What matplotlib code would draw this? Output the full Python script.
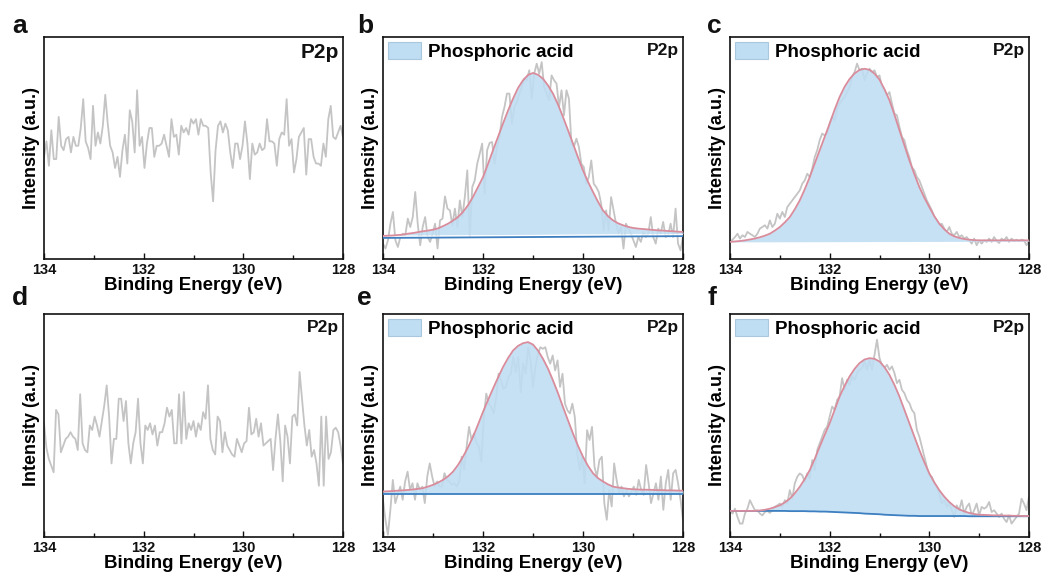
#!/usr/bin/env python3
"""
XPS P2p spectra, six panels (a-f).
Raw counts in grey, phosphoric-acid component filled in blue, envelope in pink.
"""

import numpy as np
import matplotlib
matplotlib.use('Agg')
import matplotlib.pyplot as plt
from matplotlib.patches import Patch
from matplotlib.ticker import MultipleLocator

plt.rcParams['font.family'] = ['Liberation Sans', 'DejaVu Sans']
plt.rcParams['font.weight'] = 'bold'

# ─── Palette ─────────────────────────────────────────────────────────────────

COLORS = {
    'raw': '#c4c4c4',
    'fill': '#bfddf3',
    'fill_edge': '#a9c8de',
    'fit': '#d98c9c',
    'base': '#3d7fc0',
    'ink': '#111111',
}

E_START, E_END = 134, 128

# ─── Data (intensity in arbitrary units, 0-100 of the frame) ─────────────────

raw_a = [46, 53, 42, 58, 45, 45, 64, 51, 49, 54, 55, 48, 55, 51, 51, 59, 72, 53, 50, 45,
         69, 51, 57, 52, 60, 74, 61, 51, 48, 41, 46, 37, 49, 56, 43, 67, 62, 48, 76, 51,
         55, 41, 52, 59, 59, 46, 51, 51, 52, 56, 51, 46, 63, 55, 56, 47, 60, 57, 59, 56,
         63, 61, 63, 56, 63, 60, 60, 59, 39, 26, 49, 60, 62, 57, 61, 58, 48, 41, 52, 52,
         45, 51, 62, 52, 36, 52, 47, 48, 52, 49, 50, 63, 53, 53, 52, 42, 54, 57, 56, 72,
         51, 54, 39, 45, 55, 57, 59, 38, 54, 54, 46, 43, 43, 42, 52, 46, 63, 69, 55, 54,
         57, 60, 55]

raw_b = [6.9, 4.7, 8.4, 15.9, 21.2, 8.4, 5.4, 9.9, 11.4, 10.7, 18.2, 14.4, 18.9, 30.2, 15.9,
         6.2, 14.4, 18.9, 9.9, 7.7, 11.4, 15.9, 4.7, 17.4, 18.2, 28.2, 22.7, 21.9, 15.2, 22.7,
         14.4, 26.4, 18.9, 27.9, 39.9, 9.9, 32.4, 35.4, 42.9, 47.4, 52.0, 29.4, 49.0, 52.3, 52.7,
         42.9, 50.5, 55.0, 64.0, 68.5, 74.5, 74.5, 61.0, 68.5, 70.7, 74.5, 77.5, 81.2, 80.5, 85.0,
         72.2, 83.5, 88.0, 83.5, 88.7, 77.5, 74.5, 71.5, 82.7, 80.5, 79.0, 68.5, 76.0, 64.7, 76.0,
         72.2, 52.0, 50.5, 54.2, 50.5, 42.9, 41.4, 33.9, 36.9, 44.4, 33.9, 32.4, 30.2, 24.9, 12.9,
         21.9, 12.9, 27.9, 21.9, 15.9, 11.4, 14.4, 4.7, 15.9, 13.7, 11.4, 8.4, 5.4, 9.9, 7.7,
         12.2, 9.9, 11.4, 18.9, 9.9, 6.9, 13.7, 11.4, 16.7, 9.9, 10.7, 15.9, 9.9, 22.7, 6.9,
         3.9, 9.9]

raw_c = [7.7, 8.7, 9.9, 11.4, 9.2, 10.7, 9.9, 12.2, 11.4, 10.7, 9.9, 11.4, 13.7, 14.4, 15.2,
         13.7, 17.4, 14.4, 15.9, 20.4, 18.2, 21.2, 18.9, 23.4, 24.9, 26.4, 27.9, 29.4, 30.9, 33.9,
         35.4, 38.4, 36.9, 40.7, 45.9, 49.0, 53.5, 56.5, 55.7, 56.5, 61.0, 64.0, 62.5, 67.7, 70.0,
         71.5, 73.0, 75.2, 77.5, 82.0, 84.2, 88.0, 85.0, 85.7, 80.5, 83.5, 85.7, 84.2, 85.0, 82.0,
         82.7, 77.5, 76.0, 73.7, 75.2, 70.0, 65.5, 64.7, 59.5, 55.0, 53.5, 49.0, 45.9, 41.4, 39.9,
         36.9, 35.4, 32.4, 29.4, 26.4, 24.2, 21.9, 18.9, 17.4, 15.2, 15.9, 13.7, 12.2, 14.4, 11.4,
         10.7, 12.2, 9.9, 10.7, 9.2, 9.9, 8.4, 6.9, 9.2, 6.2, 8.4, 6.9, 8.4, 7.7, 9.2,
         7.7, 9.9, 8.1, 7.2, 9.2, 8.4, 9.9, 7.7, 9.2, 8.1, 8.7, 8.1, 8.7, 8.4, 6.2, 8.1]

raw_d = [51, 40, 35, 32, 29, 57, 55, 38, 41, 44, 45, 47, 45, 44, 39, 64, 42, 39, 38, 50,
         48, 54, 50, 45, 52, 59, 68, 54, 33, 44, 44, 62, 62, 52, 61, 42, 33, 42, 47, 62,
         42, 33, 50, 48, 51, 46, 50, 41, 47, 47, 51, 58, 54, 57, 42, 42, 64, 42, 65, 44,
         51, 48, 52, 45, 51, 48, 56, 53, 68, 44, 39, 37, 54, 52, 38, 47, 41, 39, 37, 36,
         44, 41, 38, 42, 43, 58, 46, 47, 53, 45, 51, 41, 42, 43, 44, 30, 44, 55, 43, 25,
         50, 45, 33, 54, 55, 50, 74, 62, 50, 41, 48, 36, 39, 33, 23, 54, 23, 54, 35, 38,
         48, 49, 47, 41, 33]

raw_e = [16.7, 7.7, 1.0, 12.2, 25.6, 15.2, 18.9, 22.6, 16.7, 24.9, 29.3, 21.1, 24.1, 16.7, 24.1,
         21.1, 22.6, 15.2, 27.1, 33.0, 27.1, 22.6, 24.9, 22.6, 22.6, 28.6, 25.6, 24.9, 23.4, 24.1,
         22.6, 24.9, 36.0, 30.1, 40.5, 49.4, 43.5, 46.4, 42.0, 40.5, 33.8, 53.9, 64.3, 59.8, 58.3,
         55.4, 62.1, 73.2, 70.2, 66.5, 67.3, 71.7, 73.2, 80.7, 74.0, 80.7, 65.0, 77.7, 73.2, 85.1,
         79.2, 67.3, 76.2, 82.1, 85.1, 84.4, 85.1, 80.7, 77.7, 81.4, 74.7, 79.2, 67.3, 73.2, 59.8,
         56.8, 55.4, 59.8, 53.9, 37.5, 30.1, 36.0, 24.1, 47.9, 43.5, 49.4, 31.5, 27.1, 34.5, 36.0,
         15.2, 7.7, 21.1, 13.7, 33.0, 25.6, 19.6, 22.6, 18.2, 21.1, 18.2, 20.4, 22.6, 18.9, 25.6,
         21.1, 18.9, 32.3, 24.1, 15.2, 19.6, 24.1, 16.7, 27.1, 12.2, 24.1, 30.1, 16.7, 28.6, 30.1,
         24.1, 16.7, 7.7]

raw_f = [12.0, 10.5, 12.7, 9.0, 6.0, 6.0, 10.5, 12.7, 16.5, 14.2, 12.0, 12.0, 10.5, 9.7, 11.2,
         11.7, 10.8, 12.0, 13.5, 14.2, 15.0, 13.5, 16.5, 15.0, 21.0, 17.2, 24.0, 27.0, 28.5, 27.7,
         24.7, 28.5, 26.2, 34.5, 30.0, 39.0, 42.0, 45.0, 48.0, 49.5, 54.0, 58.5, 57.0, 61.5, 63.0,
         71.2, 66.0, 70.5, 68.2, 72.0, 70.5, 73.5, 75.0, 75.7, 78.7, 75.0, 79.5, 75.0, 81.7, 88.5,
         80.2, 77.2, 75.7, 77.2, 75.0, 76.5, 73.5, 69.0, 70.5, 66.0, 64.5, 61.5, 60.0, 57.0, 55.5,
         48.0, 45.0, 40.5, 36.0, 31.5, 27.7, 27.0, 24.0, 22.5, 19.5, 15.0, 16.5, 13.5, 15.0, 12.0,
         9.0, 14.2, 12.0, 16.5, 10.5, 13.5, 15.0, 9.7, 12.0, 15.0, 9.7, 13.5, 12.7, 13.5, 15.7,
         11.2, 12.0, 10.5, 9.0, 10.5, 8.2, 6.7, 9.7, 6.0, 7.5, 9.0, 10.5, 17.2, 15.0, 12.0, 18.0]

# fitted envelopes, one value per 0.1 eV from 134 to 128
fit_b = [10.4, 10.5, 10.6, 10.8, 11.0, 11.4, 11.7, 12.1, 12.5, 12.8,
         13.2, 13.8, 14.8, 15.9, 17.3, 18.9, 21.2, 24.2, 28.0, 32.4,
         36.9, 42.8, 49.0, 55.0, 61.0, 66.8, 72.2, 77.0, 80.5, 82.9,
         83.8, 83.0, 81.2, 78.2, 74.5, 69.6, 64.0, 58.0, 52.0, 45.8,
         39.9, 34.8, 30.2, 25.8, 21.9, 19.3, 17.4, 16.1, 15.2, 14.5,
         14.0, 13.7, 13.5, 13.3, 13.1, 12.9, 12.8, 12.6, 12.5, 12.3,
         12.2]

fit_c = [7.7, 7.9, 8.1, 8.4, 8.8, 9.2, 9.8, 10.5, 11.4, 12.8,
         14.4, 16.5, 18.9, 22.4, 26.4, 31.4, 36.9, 43.0, 49.0, 55.0,
         61.0, 67.3, 73.0, 77.6, 81.1, 83.6, 85.2, 85.7, 85.2, 83.5,
         80.8, 76.5, 71.5, 65.0, 58.0, 51.2, 44.4, 38.2, 32.4, 27.6,
         23.4, 19.3, 15.9, 13.4, 11.4, 10.2, 9.5, 9.0, 8.7, 8.5,
         8.4, 8.4, 8.4, 8.4, 8.4, 8.4, 8.4, 8.4, 8.4, 8.4,
         8.4]

fit_e = [20.4, 20.5, 20.6, 20.8, 20.9, 21.1, 21.3, 21.6, 21.9, 22.6,
         23.4, 24.4, 25.6, 27.2, 29.3, 32.3, 36.0, 40.2, 44.9, 50.4,
         56.1, 61.4, 66.5, 71.5, 76.2, 80.2, 83.6, 85.7, 86.9, 87.4,
         86.3, 83.6, 79.9, 75.5, 70.2, 64.5, 58.3, 52.3, 46.4, 40.9,
         36.0, 31.9, 28.6, 26.4, 24.9, 23.6, 22.6, 22.2, 21.9, 21.6,
         21.4, 21.3, 21.2, 21.2, 21.1, 21.0, 21.0, 20.9, 20.9, 20.8,
         20.8]

fit_f = [11.7, 11.7, 11.7, 11.7, 11.7, 11.7, 11.9, 12.2, 12.7, 13.4,
         14.2, 15.5, 17.2, 19.6, 22.5, 26.0, 30.0, 35.0, 40.5, 45.8,
         51.0, 57.0, 63.0, 67.8, 72.0, 75.4, 78.0, 79.6, 80.2, 79.9,
         78.7, 76.2, 72.7, 68.2, 63.0, 57.0, 51.0, 45.0, 39.0, 33.5,
         28.5, 24.5, 21.0, 18.1, 15.7, 13.8, 12.4, 11.5, 10.8, 10.3,
         10.0, 9.9, 9.8, 9.7, 9.7, 9.6, 9.6, 9.5, 9.5, 9.4,
         9.4]

# backgrounds: linear ones by their end points (134 eV, 128 eV), Shirley one sampled
bg_b_ends = [9.5, 10.3]
bg_c_ends = [7.7, 8.0]
bg_e_ends = [19.4, 19.4]
bg_f = [11.7, 11.7, 11.7, 11.7, 11.7, 11.7, 11.7, 11.7, 11.7, 11.7,
        11.7, 11.7, 11.6, 11.6, 11.6, 11.6, 11.5, 11.5, 11.4, 11.4,
        11.3, 11.2, 11.1, 11.0, 10.9, 10.8, 10.7, 10.5, 10.4, 10.3,
        10.2, 10.0, 9.9, 9.8, 9.7, 9.6, 9.5, 9.5, 9.4, 9.4,
        9.4, 9.4, 9.4, 9.4, 9.4, 9.4, 9.4, 9.4, 9.3, 9.3,
        9.3, 9.3, 9.3, 9.3, 9.3, 9.3, 9.3, 9.3, 9.3, 9.3,
        9.3]

panel_letters = ['a', 'b', 'c', 'd', 'e', 'f']
component_label = 'Phosphoric acid'
core_level = 'P2p'
x_label = 'Binding Energy (eV)'
y_label = 'Intensity (a.u.)'

# ─── Layout (pixels of the 1043x576 reference) ───────────────────────────────

COL_LEFT = [44, 383, 730]
COL_WIDTH = [299, 300, 299]
ROW_TOP = [37, 314]
ROW_HEIGHT = [222, 223]
LETTER_X = [12, 357, 707]      # left edge of the panel letter
LETTER_BASE = [33, 305]        # baseline of the panel letter
W_PX, H_PX = 1043, 576


def _axes_rect(row, col):
    left = COL_LEFT[col] / W_PX
    bottom = 1 - (ROW_TOP[row] + ROW_HEIGHT[row]) / H_PX
    return [left, bottom, COL_WIDTH[col] / W_PX, ROW_HEIGHT[row] / H_PX]


def _energy(values):
    return np.linspace(E_START, E_END, len(values))


def _linear_bg(fit, ends):
    e = _energy(fit)
    return np.interp(e, [E_END, E_START], ends[::-1])


def draw_panel(ax, raw, fit=None, bg=None, show_base=True, gap=False, big_tag=False):
    ax.plot(_energy(raw), raw, color=COLORS['raw'], linewidth=1.3, zorder=2)

    if fit is not None:
        e = _energy(fit)
        bg = np.asarray(bg)
        low = bg + 1.2 if gap else bg
        ax.fill_between(e, low, fit, color=COLORS['fill'], alpha=0.88,
                        linewidth=0, zorder=3)
        if gap:
            ax.plot(e, bg + 0.6, color='white', linewidth=1.0, zorder=3.5)
        ax.plot(e, fit, color=COLORS['fit'], linewidth=1.3, zorder=5)
        if show_base:
            ax.plot(e, bg, color=COLORS['base'], linewidth=1.3, zorder=4)
        handle = Patch(facecolor=COLORS['fill'], edgecolor=COLORS['fill_edge'],
                       linewidth=0.8)
        ax.legend([handle], [component_label], loc='upper left', frameon=False,
                  handlelength=1.75, handleheight=1.05, handletextpad=0.4,
                  borderaxespad=0.15, borderpad=0.1,
                  prop={'weight': 'bold', 'size': 13.5})

    ax.text(0.985, 0.975, core_level, transform=ax.transAxes, ha='right', va='top',
            fontsize=15 if big_tag else 12.5, fontweight='bold', color=COLORS['ink'])

    ax.set_xlim(E_START, E_END)
    ax.set_ylim(0, 100)
    ax.xaxis.set_major_locator(MultipleLocator(2))
    ax.xaxis.set_minor_locator(MultipleLocator(1))
    ax.tick_params(axis='x', which='both', direction='in', top=False,
                   labelsize=10.5, pad=3, width=1.0, colors=COLORS['ink'])
    ax.tick_params(axis='x', which='major', length=4)
    ax.tick_params(axis='x', which='minor', length=3)
    ax.set_yticks([])
    for lbl in ax.get_xticklabels():
        lbl.set_fontweight('bold')

    for spine in ax.spines.values():
        spine.set_linewidth(1.2)
        spine.set_color(COLORS['ink'])

    ax.set_xlabel(x_label, fontsize=13.5, fontweight='bold', labelpad=0)
    ax.set_ylabel(y_label, fontsize=13, fontweight='bold', labelpad=3)


fig = plt.figure(figsize=(W_PX / 100, H_PX / 100), dpi=100)
fig.patch.set_facecolor('white')

panels = [
    # row, col, raw, fit, background, show baseline, white gap, large tag
    (0, 0, raw_a, None, None, True, False, True),
    (0, 1, raw_b, fit_b, _linear_bg(fit_b, bg_b_ends), True, True, False),
    (0, 2, raw_c, fit_c, _linear_bg(fit_c, bg_c_ends), False, False, False),
    (1, 0, raw_d, None, None, True, False, False),
    (1, 1, raw_e, fit_e, _linear_bg(fit_e, bg_e_ends), True, False, False),
    (1, 2, raw_f, fit_f, bg_f, True, False, False),
]

for letter, (row, col, raw, fit, bg, show_base, gap, big_tag) in zip(panel_letters, panels):
    ax = fig.add_axes(_axes_rect(row, col))
    draw_panel(ax, raw, fit, bg, show_base, gap, big_tag)
    fig.text(LETTER_X[col] / W_PX, 1 - LETTER_BASE[row] / H_PX, letter,
             ha='left', va='baseline', fontsize=19, fontweight='bold', color=COLORS['ink'])

fig.savefig('out.png', dpi=100, facecolor='white')
plt.close(fig)
